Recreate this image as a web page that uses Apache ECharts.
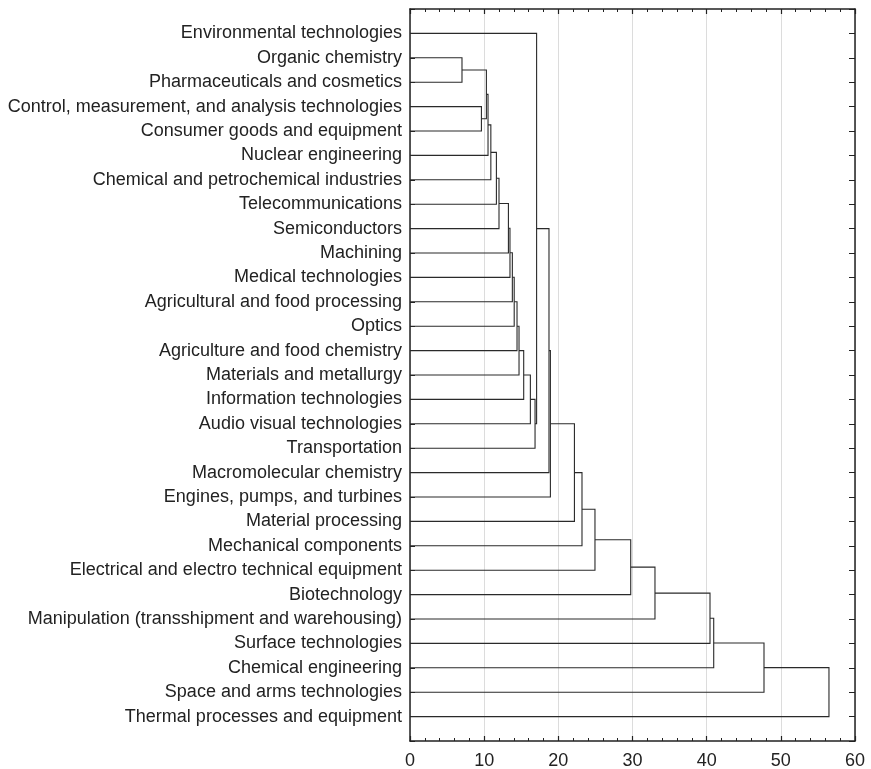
<!DOCTYPE html>
<html>
<head>
<meta charset="utf-8">
<title>Dendrogram</title>
<script src="https://cdn.jsdelivr.net/npm/echarts@6/dist/echarts.min.js"></script>
<style>
html, body { margin: 0; padding: 0; background: #fff; }
#chart { width: 871px; height: 769px; }
</style>
</head>
<body>
<div id="chart"></div>
<script>
// leaves, top to bottom
const leafLabels = [
  'Environmental technologies',
  'Organic chemistry',
  'Pharmaceuticals and cosmetics',
  'Control, measurement, and analysis technologies',
  'Consumer goods and equipment',
  'Nuclear engineering',
  'Chemical and petrochemical industries',
  'Telecommunications',
  'Semiconductors',
  'Machining',
  'Medical technologies',
  'Agricultural and food processing',
  'Optics',
  'Agriculture and food chemistry',
  'Materials and metallurgy',
  'Information technologies',
  'Audio visual technologies',
  'Transportation',
  'Macromolecular chemistry',
  'Engines, pumps, and turbines',
  'Material processing',
  'Mechanical components',
  'Electrical and electro technical equipment',
  'Biotechnology',
  'Manipulation (transshipment and warehousing)',
  'Surface technologies',
  'Chemical engineering',
  'Space and arms technologies',
  'Thermal processes and equipment'
]

// linkage: ids 0..28 are leaves, merge k creates id 29 + k
const linkLeft = [1, 3, 29, 31, 32, 33, 34, 35, 36, 37, 38, 39, 40, 41, 42, 43, 0, 45, 46, 47, 48, 49, 50, 51, 52, 53, 54, 55]
const linkRight = [2, 4, 30, 5, 6, 7, 8, 9, 10, 11, 12, 13, 14, 15, 16, 17, 44, 18, 19, 20, 21, 22, 23, 24, 25, 26, 27, 28]
const linkHeight = [7.01, 9.63, 10.3, 10.52, 10.9, 11.65, 12.0, 13.27, 13.48, 13.8, 14.05, 14.43, 14.7, 15.33, 16.23, 16.86,
  17.07, 18.74, 18.93, 22.17, 23.19, 24.94, 29.76, 33.03, 40.45, 40.95, 47.73, 56.49]

const xMin = 0
const xMax = 60
const xStep = 10

// row positions (1..29) and heights of every node
const nodeRow = leafLabels.map((_, i) => i + 1)
const nodeHeight = leafLabels.map(() => 0)
const segments = []
linkHeight.forEach((h, k) => {
  const a = linkLeft[k]
  const b = linkRight[k]
  segments.push([nodeHeight[a], nodeRow[a], nodeHeight[b], nodeRow[b], h])
  nodeRow.push((nodeRow[a] + nodeRow[b]) / 2)
  nodeHeight.push(h)
})

const frameLine = { show: true, onZero: false, lineStyle: { color: '#222', width: 1.5 } }
const labelFont = { fontFamily: 'Liberation Sans, Arial, sans-serif', fontSize: 18, color: '#222' }

const myChart = echarts.init(document.getElementById('chart'))
const option = {
  animation: false,
  backgroundColor: '#fff',
  grid: { left: 410, right: 16, top: 9, bottom: 28, containLabel: false, outerBoundsMode: 'none' },
  xAxis: [
    {
      type: 'value',
      position: 'bottom',
      min: xMin,
      max: xMax,
      interval: xStep,
      axisLine: frameLine,
      axisTick: { show: true, inside: true, length: 5, lineStyle: { color: '#222', width: 1.2 } },
      minorTick: { show: true, splitNumber: 5, length: 3, lineStyle: { color: '#222', width: 1 } },
      splitLine: { show: true, lineStyle: { color: '#dcdcdc', width: 1 } },
      axisLabel: Object.assign({ margin: 11 }, labelFont)
    },
    {
      type: 'value',
      position: 'top',
      min: xMin,
      max: xMax,
      interval: xStep,
      axisLine: frameLine,
      axisTick: { show: true, inside: true, length: 5, lineStyle: { color: '#222', width: 1.2 } },
      minorTick: { show: true, splitNumber: 5, length: 3, lineStyle: { color: '#222', width: 1 } },
      splitLine: { show: false },
      axisLabel: { show: false }
    }
  ],
  yAxis: [
    {
      type: 'value',
      position: 'left',
      inverse: true,
      min: 0,
      max: leafLabels.length + 1,
      interval: 1,
      axisLine: frameLine,
      axisTick: { show: true, inside: true, length: 5, lineStyle: { color: '#222' } },
      splitLine: { show: false },
      axisLabel: Object.assign({
        margin: 8,
        formatter: v => leafLabels[v - 1] || ''
      }, labelFont)
    },
    {
      type: 'value',
      position: 'right',
      inverse: true,
      min: 0,
      max: leafLabels.length + 1,
      interval: 1,
      axisLine: frameLine,
      axisTick: { show: true, inside: true, length: 6, lineStyle: { color: '#222' } },
      splitLine: { show: false },
      axisLabel: { show: false }
    }
  ],
  series: [
    {
      type: 'custom',
      xAxisIndex: 0,
      yAxisIndex: 0,
      data: segments,
      encode: { x: [0, 2, 4], y: [1, 3] },
      renderItem(params, api) {
        const p0 = api.coord([api.value(0), api.value(1)])
        const p1 = api.coord([api.value(4), api.value(1)])
        const p2 = api.coord([api.value(4), api.value(3)])
        const p3 = api.coord([api.value(2), api.value(3)])
        return {
          type: 'polyline',
          shape: { points: [p0, p1, p2, p3] },
          style: { fill: null, stroke: '#2a2a2a', lineWidth: 1.1 }
        }
      }
    }
  ]
}
myChart.setOption(option)
</script>
</body>
</html>
